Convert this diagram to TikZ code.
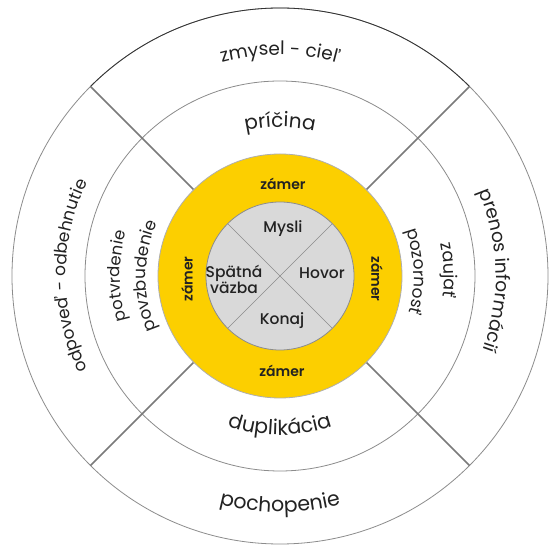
\documentclass[tikz,border=0pt]{standalone}
\usepackage{fontspec}
\setmainfont{Poppins}
\newfontfamily\popmed{Poppins Medium}
\newfontfamily\popsemi{Poppins SemiBold}
\usetikzlibrary{decorations.text}
\definecolor{ringgray}{HTML}{8C8C8C}
\definecolor{sepgray}{HTML}{7A7A7A}
\definecolor{amyellow}{HTML}{FCCF00}
\definecolor{coregray}{HTML}{D9D9D9}
\definecolor{inktext}{HTML}{222222}

% text set along an arc: font size, radius, start angle, end angle, text
\newcommand{\ringlabel}[5]{%
  \path[decorate, decoration={text along path, text align=center, text color=inktext,
    text={|\fontsize{#1}{#1}\selectfont|#5}}] (#3:#2) arc[start angle=#3, end angle=#4, radius=#2];}

\begin{document}
\begin{tikzpicture}[x=1pt, y=1pt,
  ringline/.style={draw=ringgray, line width=0.8pt},
  divider/.style={draw=sepgray, line width=1.5pt},
  corelabel/.style={text=inktext, font=\popmed\fontsize{15.5}{16}\selectfont, align=center, inner sep=0pt},
  intentlabel/.style={text=inktext, font=\popsemi\fontsize{14}{15}\selectfont, inner sep=0pt},
]
\useasboundingbox (-280,-277) rectangle (280,276);

% rings
\draw[ringline, fill=white] (0,0) circle (268);
\draw[black!80, line width=0.8pt] (45:268) arc[start angle=45, end angle=135, radius=268];
\draw[ringline] (0,0) circle (195);
\draw[divider] (45:122) -- (45:268);
\draw[divider] (135:122) -- (135:268);
\draw[divider] (225:122) -- (225:268);
\draw[divider] (315:122) -- (315:268);
\draw[ringline, fill=amyellow, draw=coregray!80!black] (0,0) circle (122);
\draw[ringline, fill=coregray] (0,0) circle (74);
\draw[ringgray, line width=0.6pt] (45:74) -- (225:74);
\draw[ringgray, line width=0.6pt] (135:74) -- (315:74);

% outer ring
\ringlabel{18.5}{221}{150}{30}{zmysel - cieľ}
\ringlabel{20.5}{236}{210}{330}{pochopenie}
\ringlabel{17}{214}{240}{120}{odpoveď - odbehnutie}
\ringlabel{18.5}{216}{61.5}{-58.5}{prenos informácií}

% middle ring
\ringlabel{20}{149}{150}{30}{príčina}
\ringlabel{20.5}{159}{210}{330}{duplikácia}
\ringlabel{16.5}{160}{240}{120}{potvrdenie}
\ringlabel{17}{134}{240}{120}{povzbudenie}
\ringlabel{17.5}{164}{62}{-58}{zaujať}
\ringlabel{17}{134}{62}{-58}{pozornosť}

% intent ring
\node[intentlabel] (zamertop) at (3,92) {zámer};
\node[intentlabel] (zamerbottom) at (2,-95) {zámer};
\node[intentlabel, rotate=90] (zamerleft) at (-93,-3) {zámer};
\node[intentlabel, rotate=-90] (zamerright) at (97,-3) {zámer};

% core
\node[corelabel] (mysli) at (3,47) {Mysli};
\node[corelabel] (hovor) at (42,3) {Hovor};
\node[corelabel] (konaj) at (2,-45) {Konaj};
\node[corelabel] (spatna) at (-46,-3) {Spätná\\väzba};
\end{tikzpicture}
\end{document}
